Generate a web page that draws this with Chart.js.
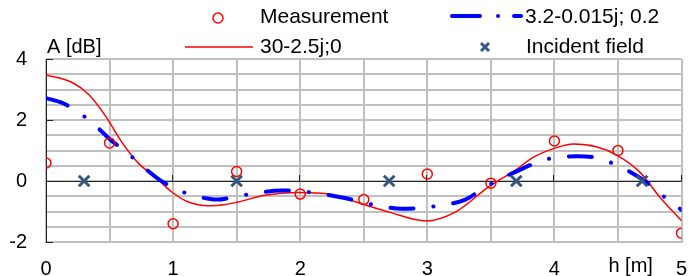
<!DOCTYPE html>
<html>
<head>
<meta charset="utf-8">
<script src="https://cdn.jsdelivr.net/npm/chart.js@4/dist/chart.umd.min.js"></script>
<style>
  html, body { margin: 0; padding: 0; background: #fff; }
  #wrap { width: 692px; height: 276px; }
</style>
</head>
<body>
<div id="wrap"><canvas id="c" width="692" height="276"></canvas></div>
<script>
// values
const measH = [0, 0.5, 1, 1.5, 2, 2.5, 3, 3.5, 4, 4.5, 5];
const measA = [0.59, 1.25, -1.40, 0.31, -0.43, -0.61, 0.23, -0.07, 1.31, 1.0, -1.71];

const incH = [0.3, 1.5, 2.7, 3.7, 4.69];
const incA = [0, 0, 0, 0, 0];

const redH = [0, 0.21, 0.34, 0.47, 0.6, 0.73, 0.86, 0.99, 1.12, 1.28, 1.4, 1.51, 1.72, 1.98,
  2.24, 2.44, 2.7, 2.99, 3.22, 3.48, 3.69, 3.84, 4.0, 4.15, 4.33, 4.49, 4.67, 4.83, 5.0];
const redA = [3.48, 3.22, 2.82, 2.12, 1.25, 0.57, 0.13, -0.36, -0.69, -0.81, -0.78, -0.69, -0.47, -0.38,
  -0.44, -0.69, -1.02, -1.31, -1.02, -0.20, 0.35, 0.79, 1.07, 1.21, 1.12, 0.85, 0.30, -0.53, -1.30];

const blueH = [0, 0.135, 0.25, 0.355, 0.51, 0.63, 0.73, 0.9, 1.02, 1.15, 1.28, 1.35, 1.5, 1.63, 1.85, 2.1,
  2.34, 2.6, 2.8, 2.93, 3.06, 3.3, 3.4, 3.53, 3.72, 3.84, 3.97, 4.18, 4.32, 4.44, 4.62, 4.72, 4.85, 5.0];
const blueA = [2.72, 2.55, 2.26, 1.95, 1.34, 0.96, 0.59, 0.02, -0.25, -0.47, -0.58, -0.61, -0.50, -0.42, -0.31, -0.38,
  -0.55, -0.80, -0.91, -0.89, -0.83, -0.61, -0.36, -0.03, 0.35, 0.57, 0.74, 0.81, 0.77, 0.61, 0.24, -0.03, -0.47, -0.95];

const xMajor = [0, 1, 2, 3, 4, 5];
const yMajor = [-2, 0, 2, 4];
const xTitle = 'h [m]';
const yTitle = 'A [dB]';
const names = ['Measurement', '30-2.5j;0', '3.2-0.015j; 0.2', 'Incident field'];

const FONT = '"Liberation Sans", Arial, sans-serif';
const RED = '#ff0000';
const BLUE = '#0000ff';
const CROSS = '#34577f';
const GRID = '#c0c0c0';

const pts = (xs, ys) => xs.map((x, i) => ({ x: x, y: ys[i] }));

// axis lines, inside tick marks, axis titles and the legend
const decor = {
  id: 'decor',
  beforeDatasetsDraw(chart) {
    const ctx = chart.ctx;
    const xs = chart.scales.x, ys = chart.scales.y;
    const y0 = ys.getPixelForValue(0);
    ctx.save();
    ctx.strokeStyle = '#222';
    ctx.lineWidth = 1;
    ctx.beginPath();
    ctx.moveTo(xs.left, y0 + 0.5);
    ctx.lineTo(xs.right, y0 + 0.5);
    ctx.moveTo(xs.left + 0.5, ys.top);
    ctx.lineTo(xs.left + 0.5, ys.bottom);
    xMajor.forEach(v => {
      if (v === 0) return;
      const px = Math.round(xs.getPixelForValue(v)) - 0.5;
      ctx.moveTo(px, y0);
      ctx.lineTo(px, y0 - 6);
    });
    yMajor.forEach(v => {
      const py = Math.round(ys.getPixelForValue(v)) + 0.5;
      ctx.moveTo(xs.left, py);
      ctx.lineTo(xs.left + 7, py);
    });
    ctx.stroke();
    ctx.restore();
  },
  afterDraw(chart) {
    const ctx = chart.ctx;
    const xs = chart.scales.x;
    ctx.save();
    ctx.fillStyle = '#000';
    ctx.textBaseline = 'middle';
    ctx.font = '20px ' + FONT;
    ctx.textAlign = 'left';
    ctx.fillText(yTitle, 47, 47);
    ctx.textAlign = 'center';
    ctx.fillText(xTitle, xs.getPixelForValue(4.6), 266);

    // legend
    ctx.textAlign = 'left';
    ctx.font = '21px ' + FONT;
    ctx.fillText(names[0], 260, 17);
    ctx.fillText(names[1], 260, 47);
    ctx.fillText(names[2], 525, 17);
    ctx.fillText(names[3], 526, 47);

    ctx.strokeStyle = RED;
    ctx.lineWidth = 1.5;
    ctx.beginPath();
    ctx.arc(218, 18, 5, 0, Math.PI * 2);
    ctx.stroke();
    ctx.beginPath();
    ctx.moveTo(185, 47);
    ctx.lineTo(253, 47);
    ctx.stroke();

    ctx.strokeStyle = BLUE;
    ctx.lineWidth = 4;
    ctx.lineCap = 'round';
    ctx.beginPath();
    ctx.moveTo(452, 16); ctx.lineTo(480, 16);
    ctx.moveTo(498, 16); ctx.lineTo(498.1, 16);
    ctx.moveTo(514, 16); ctx.lineTo(521, 16);
    ctx.stroke();

    ctx.strokeStyle = CROSS;
    ctx.lineWidth = 3;
    ctx.lineCap = 'butt';
    ctx.beginPath();
    ctx.moveTo(481, 43); ctx.lineTo(489, 51);
    ctx.moveTo(489, 43); ctx.lineTo(481, 51);
    ctx.stroke();
    ctx.restore();
  }
};

new Chart(document.getElementById('c'), {
  type: 'scatter',
  data: {
    datasets: [
      {
        label: names[0],
        data: pts(measH, measA),
        showLine: false,
        pointStyle: 'circle',
        pointRadius: 5,
        pointBorderWidth: 1.5,
        pointBorderColor: RED,
        pointBackgroundColor: 'rgba(0,0,0,0)',
        order: 0
      },
      {
        label: names[3],
        data: pts(incH, incA),
        showLine: false,
        pointStyle: 'crossRot',
        pointRadius: 7.5,
        pointBorderWidth: 3,
        pointBorderColor: CROSS,
        order: 1
      },
      {
        label: names[1],
        data: pts(redH, redA),
        showLine: true,
        borderColor: RED,
        borderWidth: 1.5,
        pointRadius: 0,
        cubicInterpolationMode: 'monotone',
        order: 3
      },
      {
        label: names[2],
        data: pts(blueH, blueA),
        showLine: true,
        borderColor: BLUE,
        borderWidth: 4,
        borderDash: [23, 20, 0.1, 20],
        borderCapStyle: 'round',
        pointRadius: 0,
        cubicInterpolationMode: 'monotone',
        order: 2
      }
    ]
  },
  options: {
    responsive: false,
    animation: false,
    events: [],
    layout: { padding: { top: 59, right: 3, left: 0, bottom: 0 } },
    plugins: { legend: { display: false }, tooltip: { enabled: false } },
    scales: {
      x: {
        type: 'linear',
        min: 0,
        max: 5,
        afterFit(s) { s.height = 34; s.paddingLeft = 0; s.paddingRight = 0; },
        afterBuildTicks(s) {
          s.ticks = [];
          for (let v = 0; v <= 5.001; v += 0.5) s.ticks.push({ value: Math.round(v * 2) / 2 });
        },
        grid: { color: GRID, lineWidth: 2, drawTicks: false },
        border: { display: true, color: GRID, width: 2 },
        ticks: {
          padding: 15,
          color: '#000',
          maxRotation: 0,
          autoSkip: false,
          font: { family: FONT, size: 20 },
          callback: v => (xMajor.includes(v) ? String(v) : '')
        }
      },
      y: {
        min: -2,
        max: 4,
        afterFit(s) { s.width = 46; },
        afterBuildTicks(s) {
          s.ticks = [];
          for (let v = -2; v <= 4.001; v += 0.5) s.ticks.push({ value: Math.round(v * 2) / 2 });
        },
        grid: { color: GRID, lineWidth: 2, drawTicks: false },
        border: { display: false },
        ticks: {
          padding: 19,
          color: '#000',
          autoSkip: false,
          font: { family: FONT, size: 20 },
          callback: v => (yMajor.includes(v) ? String(v) : '')
        }
      }
    }
  },
  plugins: [decor]
});
</script>
</body>
</html>
